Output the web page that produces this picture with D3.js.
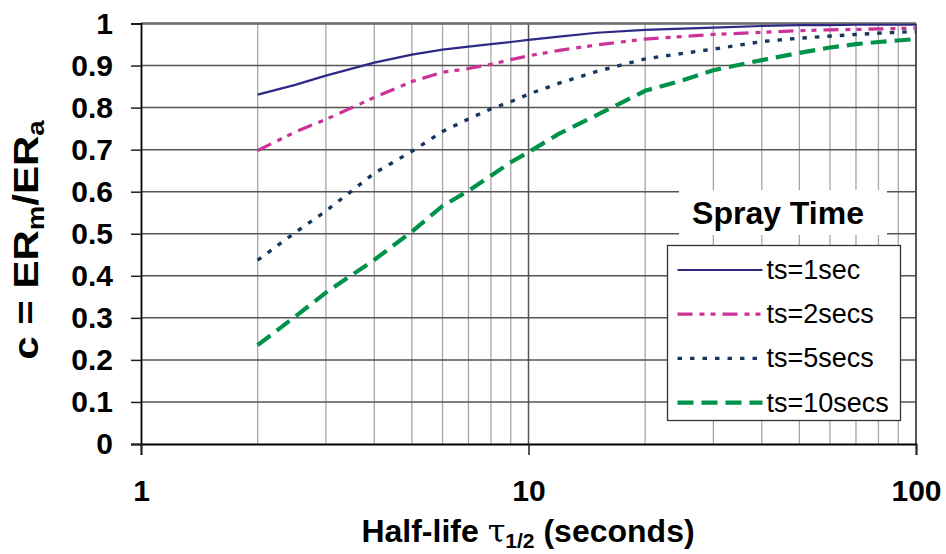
<!DOCTYPE html>
<html>
<head>
<meta charset="utf-8">
<script src="https://cdn.jsdelivr.net/npm/d3@7"></script>
<style>
  body { margin: 0; background: #fff; }
  text { font-family: "Liberation Sans", Arial, sans-serif; }
</style>
</head>
<body>
<div id="chart"></div>
<script>
// Data
var halfLife = [2, 2.5, 3, 4, 5, 6, 7, 8, 9, 10, 12, 15, 20, 25, 30, 40, 50, 60, 70, 80, 100];
var ts1 = [0.831, 0.854, 0.876, 0.907, 0.926, 0.938, 0.945, 0.951, 0.956, 0.961, 0.969, 0.978, 0.985, 0.988, 0.990, 0.994, 0.996, 0.996, 0.997, 0.997, 0.997];
var ts2 = [0.698, 0.742, 0.772, 0.824, 0.862, 0.884, 0.893, 0.903, 0.914, 0.923, 0.936, 0.949, 0.963, 0.969, 0.974, 0.979, 0.983, 0.985, 0.986, 0.987, 0.989];
var ts5 = [0.437, 0.503, 0.554, 0.644, 0.696, 0.743, 0.773, 0.797, 0.814, 0.832, 0.858, 0.886, 0.916, 0.929, 0.939, 0.957, 0.965, 0.970, 0.974, 0.977, 0.981];
var ts10 = [0.235, 0.303, 0.360, 0.438, 0.505, 0.566, 0.602, 0.638, 0.670, 0.694, 0.738, 0.782, 0.840, 0.865, 0.889, 0.913, 0.930, 0.943, 0.951, 0.956, 0.963];

var seriesNames = ["ts=1sec", "ts=2secs", "ts=5secs", "ts=10secs"];
var yTicks = [0, 0.1, 0.2, 0.3, 0.4, 0.5, 0.6, 0.7, 0.8, 0.9, 1];
var xTicks = [1, 10, 100];

// Setup chart
var svgWidth = 946;
var svgHeight = 554;
var margin = { top: 23.5, right: 30, bottom: 110, left: 141 };
var width = svgWidth - margin.left - margin.right;
var height = svgHeight - margin.top - margin.bottom;

var svg = d3.select("#chart")
  .append("svg")
  .attr("width", svgWidth)
  .attr("height", svgHeight);

var chartGroup = svg.append("g")
  .attr("transform", `translate(${margin.left}, ${margin.top})`);

var xLogScale = d3.scaleLog().domain([1, 100]).range([0, width]);
var yLinearScale = d3.scaleLinear().domain([0, 1]).range([height, 0]);

// vertical grid (minor lighter, decade darker)
var minorX = [];
[1, 10].forEach(function(d) {
  for (var k = 2; k <= 9; k++) minorX.push(d * k);
});
chartGroup.selectAll(".vminor")
  .data(minorX)
  .enter().append("line")
  .attr("x1", d => xLogScale(d)).attr("x2", d => xLogScale(d))
  .attr("y1", 0).attr("y2", height)
  .attr("stroke", "#a6a6a6").attr("stroke-width", 1.3);

chartGroup.append("line")
  .attr("x1", xLogScale(10)).attr("x2", xLogScale(10))
  .attr("y1", 0).attr("y2", height)
  .attr("stroke", "#555").attr("stroke-width", 1.5);

// horizontal grid
chartGroup.selectAll(".hgrid")
  .data(yTicks.slice(1))
  .enter().append("line")
  .attr("x1", 0).attr("x2", width)
  .attr("y1", d => yLinearScale(d)).attr("y2", d => yLinearScale(d))
  .attr("stroke", "#555").attr("stroke-width", 1.5);

// top and right border
chartGroup.append("line")
  .attr("x1", 0).attr("x2", width).attr("y1", 0).attr("y2", 0)
  .attr("stroke", "#6f6f6f").attr("stroke-width", 2.5);
chartGroup.append("line")
  .attr("x1", width).attr("x2", width).attr("y1", 0).attr("y2", height)
  .attr("stroke", "#444").attr("stroke-width", 1.8);

// axes
var leftAxis = d3.axisLeft(yLinearScale)
  .tickValues(yTicks)
  .tickSize(10)
  .tickPadding(18)
  .tickFormat(d => (d === 0 || d === 1) ? String(d) : d.toFixed(1));

var bottomAxis = d3.axisBottom(xLogScale)
  .tickValues(xTicks)
  .tickSize(11)
  .tickPadding(25)
  .tickFormat(d3.format("d"));

var yAxisG = chartGroup.append("g").call(leftAxis);
var xAxisG = chartGroup.append("g")
  .attr("transform", `translate(0, ${height})`)
  .call(bottomAxis);

[yAxisG, xAxisG].forEach(function(g) {
  g.select(".domain").attr("stroke", "#000").attr("stroke-width", 1.8);
  g.selectAll(".tick line").attr("stroke", "#222").attr("stroke-width", 1.5);
  g.selectAll(".tick text")
    .attr("fill", "#000")
    .style("font-family", "'Liberation Sans', Arial, sans-serif")
    .style("font-size", "30px")
    .style("font-weight", "bold");
});

// series lines
var series = [
  { name: seriesNames[0], values: ts1, color: "#2e2a84", width: 2.2, dash: null },
  { name: seriesNames[1], values: ts2, color: "#cc3399", width: 3.2, dash: "15,7,5,6,5,7" },
  { name: seriesNames[2], values: ts5, color: "#17375e", width: 3.4, dash: "4.5,8" },
  { name: seriesNames[3], values: ts10, color: "#00924a", width: 4.2, dash: "16,8" }
];

var line = d3.line()
  .x((d, i) => xLogScale(halfLife[i]))
  .y(d => yLinearScale(d));

series.forEach(function(s) {
  chartGroup.append("path")
    .datum(s.values)
    .attr("fill", "none")
    .attr("stroke", s.color)
    .attr("stroke-width", s.width)
    .attr("stroke-dasharray", s.dash)
    .attr("d", line);
});

// legend title
svg.append("rect")
  .attr("x", 679).attr("y", 190).attr("width", 208).attr("height", 45)
  .attr("fill", "#fff");
svg.append("text")
  .attr("x", 778).attr("y", 224)
  .attr("text-anchor", "middle")
  .style("font-size", "32px").style("font-weight", "bold")
  .text("Spray Time");

// legend box
var legend = svg.append("g").attr("transform", "translate(667.5, 245.5)");
legend.append("rect")
  .attr("width", 233).attr("height", 175)
  .attr("fill", "#fff").attr("stroke", "#333").attr("stroke-width", 1.3);

series.forEach(function(s, i) {
  var yy = 24.5 + i * 44.2;
  legend.append("line")
    .attr("x1", 10).attr("x2", 95)
    .attr("y1", yy).attr("y2", yy)
    .attr("stroke", s.color)
    .attr("stroke-width", s.width)
    .attr("stroke-dasharray", s.dash);
  legend.append("text")
    .attr("x", 99).attr("y", yy + 9)
    .style("font-size", "27px")
    .text(s.name);
});

// y axis title
var yTitle = svg.append("text")
  .attr("transform", "translate(38, 240) rotate(-90) scale(1.2, 1)")
  .attr("text-anchor", "middle")
  .style("font-size", "35px").style("font-weight", "bold");
yTitle.append("tspan").text("c = ER");
yTitle.append("tspan").attr("dy", 6).style("font-size", "23px").text("m");
yTitle.append("tspan").attr("dy", -6).text("/ER");
yTitle.append("tspan").attr("dy", 6).style("font-size", "23px").text("a");

// x axis title
var xTitle = svg.append("text")
  .attr("x", 528).attr("y", 542)
  .attr("text-anchor", "middle")
  .style("font-size", "32px").style("font-weight", "bold");
xTitle.append("tspan").text("Half-life ");
xTitle.append("tspan").style("font-family", "'DejaVu Serif', serif").style("font-weight", "normal").text("\u03C4");
xTitle.append("tspan").attr("dy", 6).style("font-size", "21px").text("1/2");
xTitle.append("tspan").attr("dy", -6).text(" (seconds)");
</script>
</body>
</html>
